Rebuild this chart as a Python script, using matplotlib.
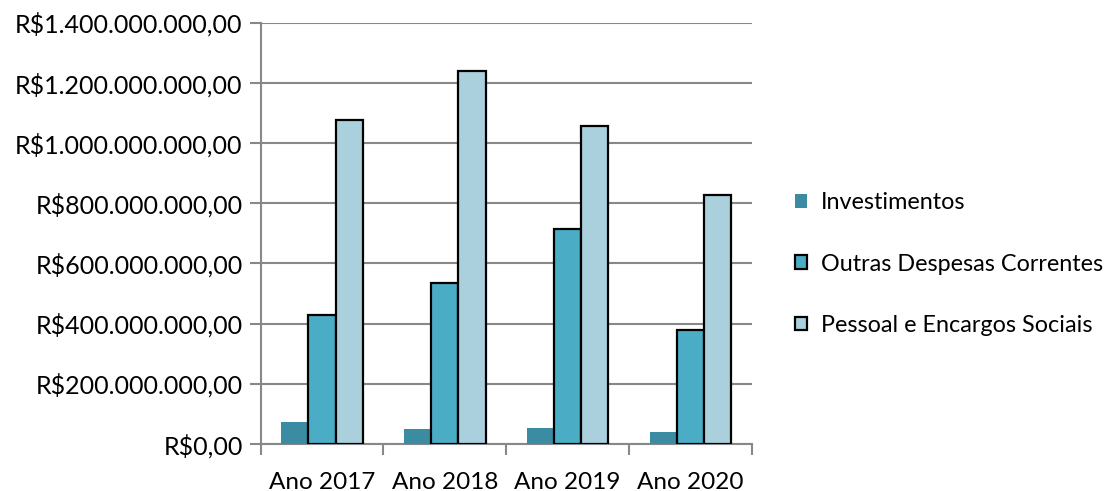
import matplotlib
matplotlib.use("Agg")
import matplotlib.pyplot as plt
import numpy as np
from matplotlib.ticker import FuncFormatter, FixedLocator

categories = ["Ano 2017", "Ano 2018", "Ano 2019", "Ano 2020"]
series_names = ["Investimentos", "Outras Despesas Correntes", "Pessoal e Encargos Sociais"]
investimentos = [72e6, 50e6, 54e6, 39e6]
outras = [430e6, 534e6, 715e6, 380e6]
pessoal = [1075e6, 1241e6, 1057e6, 827e6]

colors = ["#3B8BA3", "#4BACC6", "#AACFDD"]
edges = ["none", "black", "black"]

plt.rcParams['font.family'] = ['Lato', 'DejaVu Sans']
FS = 18

fig = plt.figure(figsize=(11.18, 4.91), dpi=100)
ax = fig.add_axes([0.2332, 0.0957, 0.4392, 0.8581])

x = np.arange(len(categories))
w = 0.2217
for i, (vals, c, e, name) in enumerate(zip([investimentos, outras, pessoal], colors, edges, series_names)):
    ax.bar(x + (i - 1) * w, vals, width=w, color=c, edgecolor=e,
           linewidth=1.6 if e != "none" else 0, label=name, zorder=3)

ax.set_xlim(-0.5, len(categories) - 0.5)
ax.set_ylim(0, 1.4e9)
ax.set_yticks(np.arange(0, 1.4e9 + 1, 2e8))

def fmt(v, pos):
    s = f"{int(round(v)):,}".replace(",", ".")
    return f"R${s},00"
ax.yaxis.set_major_formatter(FuncFormatter(fmt))

ax.set_xticks(x)
ax.set_xticklabels(categories)
ax.xaxis.set_minor_locator(FixedLocator(np.arange(-0.5, len(categories), 1.0)))
ax.tick_params(axis='x', which='major', length=0, labelsize=17.5, pad=20, colors='black')
ax.tick_params(axis='x', which='minor', length=8, width=1.5, color='#888888')
ax.tick_params(axis='y', which='major', length=8, width=1.5, color='#888888', labelsize=FS, pad=5)
for lbl in ax.get_yticklabels() + ax.get_xticklabels():
    lbl.set_color('black')

ax.grid(axis='y', color='#888888', linewidth=1.5, zorder=0)
for s in ['top', 'right']:
    ax.spines[s].set_visible(False)
for s in ['left', 'bottom']:
    ax.spines[s].set_color('#888888')
    ax.spines[s].set_linewidth(1.5)

leg = fig.legend(loc='center left', bbox_to_anchor=(0.692, 0.4623), frameon=False,
                 fontsize=16.8, labelspacing=1.72, handlelength=0.52, handleheight=0.52,
                 handletextpad=0.62)

fig.savefig("out.png", dpi=100)
